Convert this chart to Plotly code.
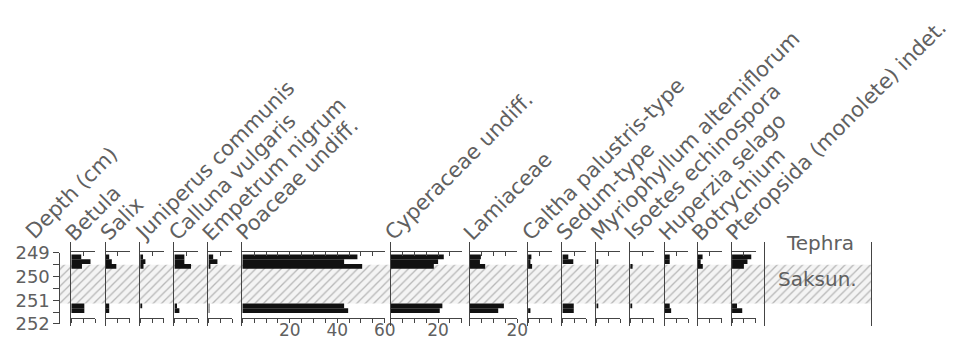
import plotly.graph_objects as go

FIG_W, FIG_H = 975, 341

# ---------------- data ----------------
sample_depths = [249.17, 249.37, 249.57, 251.24, 251.44]   # cm
sample_thickness = 0.2
tephra_top = 249.5
tephra_bottom = 251.14
tephra_name = "Saksun."
depth_ticks = [249, 249.5, 250, 250.5, 251, 251.5, 252]
depth_labels = ["249", "", "250", "", "251", "", "252"]

taxa = ["Betula", "Salix", "Juniperus communis", "Calluna vulgaris",
        "Empetrum nigrum", "Poaceae undiff.", "Cyperaceae undiff.",
        "Lamiaceae", "Caltha palustris-type", "Sedum-type",
        "Myriophyllum alterniflorum", "Isoetes echinospora",
        "Huperzia selago", "Botrychium", "Pteropsida (monolete) indet."]

betula = [4.2, 8.1, 4.5, 5.5, 5.5]
salix = [1.4, 2.5, 4.4, 1.4, 1.4]
juniperus = [1.2, 2.2, 1.4, 0.8, 0.0]
calluna = [4.2, 4.2, 7.0, 1.1, 2.1]
empetrum = [2.0, 3.8, 0.5, 0.3, 0.3]
poaceae = [48.5, 42.9, 50.5, 42.9, 44.6]
cyperaceae = [22.4, 20.0, 18.2, 21.8, 20.7]
lamiaceae = [4.7, 4.3, 6.5, 14.4, 12.0]
caltha = [1.4, 1.0, 1.7, 0.0, 1.0]
sedum = [2.5, 4.6, 0.0, 4.8, 4.8]
myriophyllum = [0.0, 0.5, 0.0, 0.8, 0.0]
isoetes = [0.0, 0.0, 1.0, 0.6, 0.0]
huperzia = [2.2, 2.2, 0.0, 2.2, 2.8]
botrychium = [2.0, 1.2, 2.1, 0.0, 0.0]
pteropsida = [8.1, 6.5, 5.0, 2.1, 4.3]

series = [betula, salix, juniperus, calluna, empetrum, poaceae, cyperaceae,
          lamiaceae, caltha, sedum, myriophyllum, isoetes, huperzia,
          botrychium, pteropsida]
scale_max = [10, 10, 10, 10, 10, 60, 30, 20, 10, 10, 10, 10, 10, 10, 10]
tick_step = 5
label_step = 20

# ---------------- layout (pixels) ----------------
panel_left_px = [64, 99, 133.7, 168.3, 202.7, 237, 387, 467, 526, 560.7,
                 595, 629.3, 664, 697.7, 732.3]
PX_PER_PCT = 2.4
DEPTH_AXIS_X = 52
BAND_RIGHT_X = 873
TEPHRA_COL = (766, 873)
Y249_PX, PX_PER_CM = 249.3, 25.2
PANEL_TOP_PX, PANEL_BOT_PX = 238, 327
TOP_AXIS_PX, BOT_AXIS_PX = 247, 318.5

LINE = "#444"
TEXT = "#606060"
FONT = "DejaVu Sans"


def px_x(p):
    return p / FIG_W


def py(p):
    return 1 - p / FIG_H


def depth_at(p):
    return 249 + (p - Y249_PX) / PX_PER_CM


def px_of_depth(d):
    return Y249_PX + (d - 249) * PX_PER_CM


fig = go.Figure()
layout = dict(
    width=FIG_W, height=FIG_H,
    margin=dict(l=0, r=0, t=0, b=0),
    paper_bgcolor="white", plot_bgcolor="rgba(0,0,0,0)",
    showlegend=False, barmode="overlay",
    font=dict(family=FONT, color=TEXT),
)

# depth axis + tephra band (x / y)
layout["yaxis"] = dict(
    domain=[py(px_of_depth(252)), py(px_of_depth(249))],
    range=[252, 249], anchor="free", position=px_x(DEPTH_AXIS_X),
    tickvals=depth_ticks, ticktext=depth_labels, ticks="outside", ticklen=6,
    tickcolor=LINE, showline=True, linecolor=LINE, linewidth=1,
    showgrid=False, zeroline=False, tickfont=dict(size=18, color=TEXT),
)
layout["xaxis"] = dict(domain=[px_x(DEPTH_AXIS_X), px_x(BAND_RIGHT_X)],
                       range=[0, 1], visible=False, anchor="y")
fig.add_trace(go.Bar(
    x=[1], y=[(tephra_top + tephra_bottom) / 2],
    width=[tephra_bottom - tephra_top], base=0, orientation="h",
    marker=dict(color="white", line=dict(width=0),
                pattern=dict(shape="/", fgcolor="#7a7a7a", bgcolor="#f4f4f4",
                             size=6, solidity=0.22)),
    xaxis="x", yaxis="y", hoverinfo="skip"))

panel_range = [depth_at(PANEL_BOT_PX), depth_at(PANEL_TOP_PX)]
n = len(taxa)
for i, (name, vals, vmax) in enumerate(zip(taxa, series, scale_max)):
    k = 2 + i
    kt = 2 + n + i
    left = panel_left_px[i]
    dom = [px_x(left), px_x(left + vmax * PX_PER_PCT)]
    tv = list(range(0, vmax + 1, tick_step))
    tt = [str(v) if (v > 0 and v % label_step == 0) else "" for v in tv]
    layout[f"xaxis{k}"] = dict(
        domain=dom, range=[0, vmax], anchor="free", position=py(BOT_AXIS_PX),
        side="bottom", tickvals=tv, ticktext=tt, ticks="outside", ticklen=4,
        tickcolor=LINE, showline=True, linecolor=LINE, linewidth=1,
        showgrid=False, zeroline=False, tickfont=dict(size=17, color=TEXT),
        ticklabelstandoff=-7,
    )
    layout[f"xaxis{kt}"] = dict(
        overlaying=f"x{k}", range=[0, vmax], anchor="free",
        position=py(TOP_AXIS_PX), side="top", tickvals=tv,
        showticklabels=False, ticks="inside", ticklen=4, tickcolor=LINE,
        showline=True, linecolor=LINE, linewidth=1, showgrid=False,
        zeroline=False,
    )
    layout[f"yaxis{k}"] = dict(
        domain=[py(PANEL_BOT_PX), py(PANEL_TOP_PX)], range=panel_range,
        anchor=f"x{k}", showline=True, linecolor=LINE, linewidth=1,
        ticks="", showticklabels=False, showgrid=False, zeroline=False,
    )
    fig.add_trace(go.Bar(
        x=vals, y=sample_depths, width=[sample_thickness] * len(vals),
        base=0, orientation="h",
        marker=dict(color="#111", line=dict(width=0)),
        xaxis=f"x{k}", yaxis=f"y{k}", hoverinfo="skip"))
    fig.add_trace(go.Scatter(x=[], y=[], xaxis=f"x{kt}", yaxis=f"y{k}",
                             hoverinfo="skip"))

# tephra column
kx = 2 + 2 * n
ky = 2 + n
layout[f"xaxis{kx}"] = dict(domain=[px_x(TEPHRA_COL[0]), px_x(TEPHRA_COL[1])],
                            range=[0, 1], visible=False, anchor=f"y{ky}")
layout[f"yaxis{ky}"] = dict(
    domain=[py(PANEL_BOT_PX), py(PANEL_TOP_PX)], range=panel_range,
    anchor=f"x{kx}", showline=True, mirror=True, linecolor=LINE, linewidth=1,
    ticks="", showticklabels=False, showgrid=False, zeroline=False)
fig.add_trace(go.Scatter(x=[], y=[], xaxis=f"x{kx}", yaxis=f"y{ky}",
                         hoverinfo="skip"))

# rotated header labels
HEAD_FS = 21
box_h = HEAD_FS * 1.17 + 2
headers = [("Depth (cm)", 25, 238)] + [
    (name, panel_left_px[i] + 1.5, 240) for i, name in enumerate(taxa)]
annotations = []
for text, bx, by in headers:
    annotations.append(dict(
        text=text, xref="paper", yref="paper",
        x=px_x(bx + 4 - 0.707 * box_h), y=py(by + 4),
        xanchor="left", yanchor="bottom", textangle=-45, showarrow=False,
        font=dict(size=HEAD_FS, color=TEXT, family=FONT)))

mid_col = (TEPHRA_COL[0] + TEPHRA_COL[1]) / 2
annotations.append(dict(text="Tephra", xref="paper", yref="paper",
                        x=px_x(mid_col + 2), y=py(239), showarrow=False,
                        xanchor="center", yanchor="middle",
                        font=dict(size=20, color=TEXT, family=FONT)))
annotations.append(dict(text=tephra_name, xref="paper", yref="y",
                        x=px_x(mid_col - 1),
                        y=(tephra_top + tephra_bottom) / 2 - 0.22,
                        showarrow=False, xanchor="center", yanchor="middle",
                        font=dict(size=20, color=TEXT, family=FONT)))
layout["annotations"] = annotations

fig.update_layout(**layout)
fig.write_html("out.html")
